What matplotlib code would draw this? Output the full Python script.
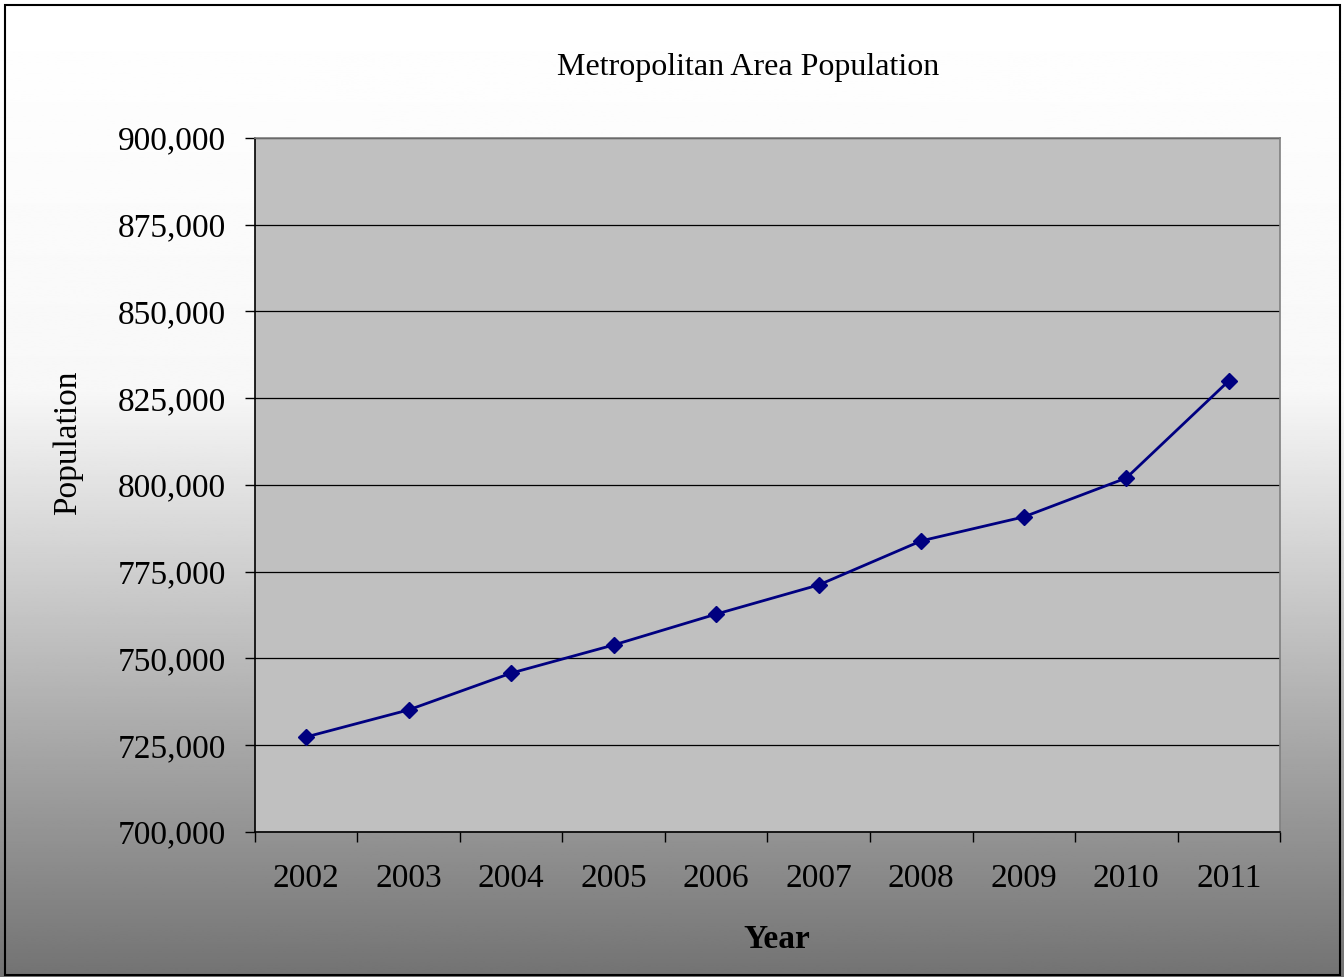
import numpy as np
import matplotlib
matplotlib.use('Agg')
import matplotlib.pyplot as plt
from matplotlib.patches import Rectangle
from matplotlib.ticker import FuncFormatter

years = ['2002', '2003', '2004', '2005', '2006', '2007', '2008', '2009', '2010', '2011']
population = [727400, 735200, 745800, 753900, 762800, 771200, 783900, 790800, 802000, 830000]

plt.rcParams['font.family'] = ['Liberation Serif', 'DejaVu Serif']

fig = plt.figure(figsize=(13.44, 9.77), dpi=100)

# background gradient: white at top, dark grey at bottom
bg = fig.add_axes([0, 0, 1, 1], zorder=-10)
t = np.linspace(0, 1, 512)
shade = np.where(t < 0.40, 1.0 - 0.03 * t / 0.40, 0.97 - (0.97 - 0.45) * (t - 0.40) / 0.60)
bg.imshow(np.repeat(shade[:, None], 2, axis=1), cmap='gray', vmin=0, vmax=1,
          aspect='auto', extent=[0, 1, 0, 1], origin='upper')
bg.set_xlim(0, 1)
bg.set_ylim(0, 1)
bg.axis('off')
fig.patches.append(Rectangle((0.004, 0.002), 0.993, 0.993, transform=fig.transFigure,
                             fill=False, edgecolor='black', linewidth=1.5))

ax = fig.add_axes([0.1897, 0.1484, 0.7627, 0.7104])
ax.set_facecolor('#c0c0c0')
x = np.arange(len(years))
ax.plot(x, population, color='#000080', linewidth=2.0, marker='D', markersize=8, zorder=3)

ax.set_xlim(-0.5, len(years) - 0.5)
ax.set_ylim(700000, 900000)
ax.set_yticks(np.arange(700000, 900001, 25000))
ax.yaxis.set_major_formatter(FuncFormatter(lambda v, p: f'{int(v):,}'))
ax.grid(axis='y', color='black', linewidth=0.9)
ax.set_axisbelow(True)

ax.set_xticks(np.arange(-0.5, len(years), 1.0))
ax.set_xticklabels([])
ax.set_xticks(x, minor=True)
ax.set_xticklabels(years, minor=True)
ax.tick_params(axis='x', which='major', direction='out', length=7, width=1, color='black')
ax.tick_params(axis='x', which='minor', length=0, pad=23, labelsize=24)
ax.tick_params(axis='y', direction='out', length=7, width=1, pad=14, labelsize=24)

for s in ['left', 'bottom']:
    ax.spines[s].set_color('black')
    ax.spines[s].set_linewidth(1.2)
for s in ['top', 'right']:
    ax.spines[s].set_color('#808080')
    ax.spines[s].set_linewidth(1.2)

fig.text(748 / 1344, 1 - 67 / 977, 'Metropolitan Area Population', ha='center', va='center', fontsize=23)
fig.text(777 / 1344, 1 - 940 / 977, 'Year', ha='center', va='center', fontsize=24, fontweight='bold')
fig.text(68 / 1344, 1 - 443 / 977, 'Population', ha='center', va='center', fontsize=24, rotation=90)

fig.savefig('out.png', dpi=100)
